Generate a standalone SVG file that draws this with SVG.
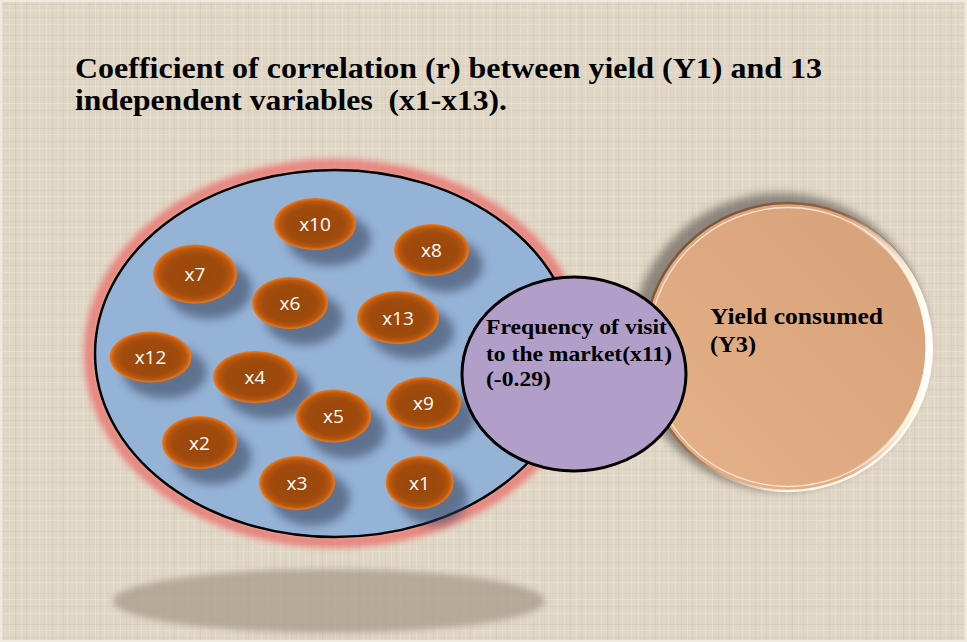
<svg xmlns="http://www.w3.org/2000/svg" width="967" height="642" viewBox="0 0 967 642">
  <defs>
    <pattern id="linen" width="37" height="31" patternUnits="userSpaceOnUse">
      <rect width="37" height="31" fill="#e0d6c5"/>
      <g stroke="#f0e9dd" stroke-width="1" opacity="0.45">
        <line x1="2.5" y1="0" x2="2.5" y2="31"/>
        <line x1="9.5" y1="0" x2="9.5" y2="31"/>
        <line x1="21.5" y1="0" x2="21.5" y2="31"/>
        <line x1="30.5" y1="0" x2="30.5" y2="31"/>
        <line x1="0" y1="10.5" x2="37" y2="10.5"/>
        <line x1="0" y1="24.5" x2="37" y2="24.5"/>
      </g>
      <g stroke="#cdc1ae" stroke-width="1" opacity="0.35">
        <line x1="0" y1="4.5" x2="37" y2="4.5"/>
        <line x1="0" y1="17.5" x2="37" y2="17.5"/>
        <line x1="15.5" y1="0" x2="15.5" y2="31"/>
        <line x1="26.5" y1="0" x2="26.5" y2="31"/>
      </g>
    </pattern>
    <radialGradient id="bean" cx="50%" cy="50%" r="50%" fx="50%" fy="55%">
      <stop offset="0" stop-color="#9a470c"/>
      <stop offset="0.7" stop-color="#a04b0d"/>
      <stop offset="0.88" stop-color="#b9580f"/>
      <stop offset="1" stop-color="#f07a1a"/>
    </radialGradient>
    <linearGradient id="peach" x1="0" y1="1" x2="1" y2="0">
      <stop offset="0" stop-color="#e6b28a"/>
      <stop offset="1" stop-color="#d6a078"/>
    </linearGradient>
    <linearGradient id="rimStroke" x1="0" y1="0" x2="1" y2="1">
      <stop offset="0" stop-color="#6e4c32"/>
      <stop offset="0.5" stop-color="#9a7050"/>
      <stop offset="0.75" stop-color="#fff6e6"/>
      <stop offset="1" stop-color="#ffffff"/>
    </linearGradient>
    <linearGradient id="rimHi" x1="0" y1="0" x2="1" y2="0">
      <stop offset="0" stop-color="#ffffff" stop-opacity="0"/>
      <stop offset="0.7" stop-color="#ffffff" stop-opacity="0"/>
      <stop offset="0.95" stop-color="#fffbe8" stop-opacity="0.95"/>
      <stop offset="1" stop-color="#ffffff" stop-opacity="1"/>
    </linearGradient>
    <filter id="blur3" x="-20%" y="-20%" width="140%" height="140%">
      <feGaussianBlur stdDeviation="3"/>
    </filter>
    <filter id="blur4" x="-20%" y="-20%" width="140%" height="140%">
      <feGaussianBlur stdDeviation="4"/>
    </filter>
    <filter id="shadow" x="-40%" y="-40%" width="180%" height="180%">
      <feGaussianBlur stdDeviation="5"/>
    </filter>
  </defs>
  <style>
    .title { font-family: "Liberation Serif", "Times New Roman", serif; font-weight: bold; font-size: 30px; fill: #000; }
    .lbl { font-family: "Liberation Serif", "Times New Roman", serif; font-weight: bold; font-size: 21px; fill: #000; }
    .lblb { font-family: "Liberation Serif", "Times New Roman", serif; font-weight: bold; font-size: 24px; fill: #000; }
    .xt { font-family: "Open Sans", "Noto Sans", sans-serif; font-size: 19px; fill: #ffffff; text-anchor: middle; dominant-baseline: central; }
    .bean { fill: url(#bean); }
    .bsh { fill: #3a4662; opacity: 0.6; filter: url(#shadow); }
  </style>

  <rect width="967" height="642" fill="url(#linen)"/>
  <rect x="1" y="1" width="965" height="640" fill="none" stroke="#efe9de" stroke-width="2"/>

  <g id="title">
    <text class="title" x="75" y="78" textLength="747" lengthAdjust="spacingAndGlyphs">Coefficient of correlation (r) between yield (Y1) and 13</text>
    <text class="title" x="75" y="110" textLength="432" lengthAdjust="spacingAndGlyphs" xml:space="preserve">independent variables  (x1-x13).</text>
  </g>

  <!-- ground shadow -->
  <ellipse cx="329" cy="601" rx="216" ry="32" fill="#a89a8a" opacity="0.75" filter="url(#blur3)"/>

  <g id="n-variables">
    <ellipse cx="335" cy="353.5" rx="245" ry="188.5" fill="none" stroke="#e9716c" stroke-width="12" opacity="0.8" filter="url(#blur3)"/>
    <ellipse cx="335" cy="353.5" rx="240" ry="183.5" fill="#95b3d7" stroke="#000" stroke-width="2.5"/>
  </g>

  <g id="bean-shadows">
    <ellipse class="bsh" cx="329" cy="239" rx="42" ry="27"/>
    <ellipse class="bsh" cx="445" cy="265" rx="38" ry="27"/>
    <ellipse class="bsh" cx="209" cy="289" rx="43" ry="30"/>
    <ellipse class="bsh" cx="304" cy="318" rx="39" ry="27"/>
    <ellipse class="bsh" cx="412" cy="332" rx="42" ry="27"/>
    <ellipse class="bsh" cx="165" cy="372" rx="42" ry="26.5"/>
    <ellipse class="bsh" cx="269" cy="392" rx="43" ry="27"/>
    <ellipse class="bsh" cx="347" cy="431" rx="38.5" ry="27.5"/>
    <ellipse class="bsh" cx="437" cy="418" rx="38.5" ry="27"/>
    <ellipse class="bsh" cx="213" cy="457" rx="38.5" ry="27.5"/>
    <ellipse class="bsh" cx="311" cy="498" rx="39" ry="28"/>
    <ellipse class="bsh" cx="433" cy="497" rx="35" ry="27.5"/>
  </g>

  <g id="n-x10"><ellipse class="bean" cx="315" cy="224" rx="41" ry="26"/><text class="xt" x="315" y="224">x10</text></g>
  <g id="n-x8"><ellipse class="bean" cx="431.5" cy="250" rx="37.5" ry="26"/><text class="xt" x="431.5" y="250">x8</text></g>
  <g id="n-x7"><ellipse class="bean" cx="195" cy="274" rx="42" ry="29.5"/><text class="xt" x="195" y="274">x7</text></g>
  <g id="n-x6"><ellipse class="bean" cx="290" cy="303" rx="38" ry="26"/><text class="xt" x="290" y="303">x6</text></g>
  <g id="n-x13"><ellipse class="bean" cx="398" cy="317.5" rx="41" ry="26.5"/><text class="xt" x="398" y="317.5">x13</text></g>
  <g id="n-x12"><ellipse class="bean" cx="150.5" cy="357" rx="41" ry="25.5"/><text class="xt" x="150.5" y="357">x12</text></g>
  <g id="n-x4"><ellipse class="bean" cx="255" cy="377" rx="42" ry="26"/><text class="xt" x="255" y="377">x4</text></g>
  <g id="n-x5"><ellipse class="bean" cx="333.5" cy="416" rx="37.5" ry="26.5"/><text class="xt" x="333.5" y="416">x5</text></g>
  <g id="n-x9"><ellipse class="bean" cx="423.5" cy="403" rx="37.5" ry="26"/><text class="xt" x="423.5" y="403">x9</text></g>
  <g id="n-x2"><ellipse class="bean" cx="199.5" cy="442.5" rx="37.5" ry="26.5"/><text class="xt" x="199.5" y="442.5">x2</text></g>
  <g id="n-x3"><ellipse class="bean" cx="297" cy="483" rx="38" ry="27"/><text class="xt" x="297" y="483">x3</text></g>
  <g id="n-x1"><ellipse class="bean" cx="419.5" cy="482.5" rx="34" ry="26.5"/><text class="xt" x="419.5" y="482.5">x1</text></g>

  <g id="n-y3">
    <circle cx="780" cy="342" r="149" fill="#555048" opacity="0.6" filter="url(#blur4)"/>
    <circle cx="788" cy="347" r="144" fill="url(#peach)" stroke="url(#rimStroke)" stroke-width="2.5"/>
    <circle cx="788" cy="347" r="139.5" fill="none" stroke="#fff8ec" stroke-width="1.3" opacity="0.75"/>
    <circle cx="788" cy="347" r="141" fill="none" stroke="url(#rimHi)" stroke-width="7"/>
    <text class="lblb" x="710" y="324" textLength="173" lengthAdjust="spacingAndGlyphs">Yield consumed</text>
    <text class="lblb" x="710" y="352" textLength="46" lengthAdjust="spacingAndGlyphs">(Y3)</text>
  </g>

  <g id="n-x11">
    <ellipse cx="574" cy="374" rx="112" ry="97" fill="#b19fc9" stroke="#000" stroke-width="3"/>
    <text class="lbl" x="486" y="334" textLength="181" lengthAdjust="spacingAndGlyphs">Frequency of visit</text>
    <text class="lbl" x="486" y="361" textLength="186" lengthAdjust="spacingAndGlyphs">to the market(x11)</text>
    <text class="lbl" x="486" y="386" textLength="65" lengthAdjust="spacingAndGlyphs">(-0.29)</text>
  </g>

  <g id="connectors"/>
</svg>
